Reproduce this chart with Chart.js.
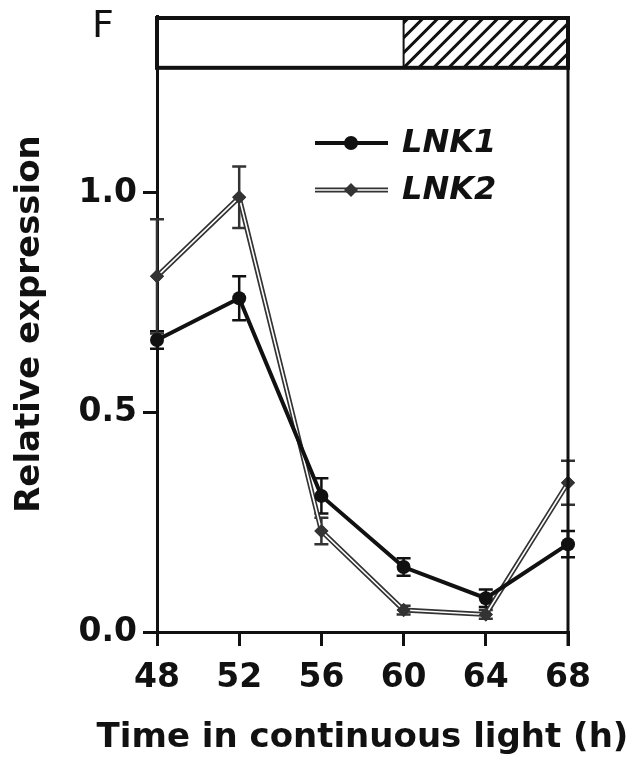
<!DOCTYPE html>
<html>
<head>
<meta charset="utf-8">
<script src="https://cdn.jsdelivr.net/npm/chart.js@4.4.0/dist/chart.umd.min.js"></script>
<style>
  body { margin: 0; background: #fff; }
</style>
</head>
<body>
<canvas id="chart" width="632" height="764"></canvas>
<script>
// data
const hours = [48, 52, 56, 60, 64, 68];
const lnk1 = [0.665, 0.76, 0.31, 0.148, 0.077, 0.20];
const lnk1Err = [0.02, 0.05, 0.04, 0.02, 0.02, 0.03];
const lnk2 = [0.81, 0.99, 0.23, 0.05, 0.04, 0.34];
const lnk2Err = [0.13, 0.07, 0.03, 0.01, 0.01, 0.05];
const yTicks = [0, 0.5, 1.0];
const xTicks = [48, 52, 56, 60, 64, 68];
// light / dark bar on top (subjective day, subjective night)
const dayBar = [48, 60];
const nightBar = [60, 68];
const xTitle = 'Time in continuous light (h)';

const FONT = "'DejaVu Sans', Verdana, sans-serif";
const INK = '#111';

function toPoints(ys) {
    return hours.map((h, i) => ({ x: h, y: ys[i] }));
}

const errors = [lnk1Err, lnk2Err];

// error bars under the markers
const errorBars = {
    id: 'errorBars',
    beforeDatasetsDraw(chart) {
        const ctx = chart.ctx;
        const y = chart.scales.y;
        chart.data.datasets.forEach((ds, di) => {
            const meta = chart.getDatasetMeta(di);
            ctx.save();
            ctx.strokeStyle = ds.borderColor;
            ctx.lineWidth = 2.5;
            meta.data.forEach((pt, i) => {
                const v = ds.data[i].y;
                const e = errors[di][i];
                const top = y.getPixelForValue(v + e);
                const bot = y.getPixelForValue(Math.max(0, v - e));
                ctx.beginPath();
                ctx.moveTo(pt.x, top); ctx.lineTo(pt.x, bot);
                ctx.moveTo(pt.x - 7, top); ctx.lineTo(pt.x + 7, top);
                ctx.moveTo(pt.x - 7, bot); ctx.lineTo(pt.x + 7, bot);
                ctx.stroke();
            });
            ctx.restore();
        });
    }
};

// LNK2 is printed as an outlined (hollow) line
const hollowLine = {
    id: 'hollowLine',
    afterDatasetDraw(chart, args) {
        if (args.index !== 1) return;
        const ctx = chart.ctx;
        const pts = args.meta.data;
        ctx.save();
        ctx.strokeStyle = '#fff';
        ctx.lineWidth = 1.6;
        ctx.beginPath();
        pts.forEach((p, i) => i ? ctx.lineTo(p.x, p.y) : ctx.moveTo(p.x, p.y));
        ctx.stroke();
        pts.forEach(p => p.draw(ctx));
        ctx.restore();
    }
};

// frame on the right, the day/night bar, panel letter, x title and legend
const extras = {
    id: 'extras',
    afterDraw(chart) {
        const ctx = chart.ctx;
        const area = chart.chartArea;
        const x = chart.scales.x;
        const y = chart.scales.y;
        ctx.save();

        // right border
        ctx.strokeStyle = INK;
        ctx.lineWidth = 3;
        ctx.beginPath();
        ctx.moveTo(area.right, area.top);
        ctx.lineTo(area.right, area.bottom + 14);
        ctx.stroke();

        // bar
        const barTop = area.top + 2;
        const barBot = y.getPixelForValue(1.285);
        const d0 = x.getPixelForValue(dayBar[0]);
        const n0 = x.getPixelForValue(nightBar[0]);
        const n1 = x.getPixelForValue(nightBar[1]);
        ctx.fillStyle = '#fff';
        ctx.fillRect(d0, barTop, n1 - d0, barBot - barTop);

        ctx.save();
        ctx.beginPath();
        ctx.rect(n0, barTop, n1 - n0, barBot - barTop);
        ctx.clip();
        ctx.lineWidth = 3;
        ctx.beginPath();
        for (let k = n0 - 60; k < n1 + 60; k += 15) {
            ctx.moveTo(k, barBot);
            ctx.lineTo(k + (barBot - barTop), barTop);
        }
        ctx.stroke();
        ctx.restore();

        ctx.lineWidth = 4;
        ctx.strokeRect(d0, barTop, n1 - d0, barBot - barTop);
        ctx.beginPath();
        ctx.moveTo(n0, barTop); ctx.lineTo(n0, barBot);
        ctx.lineWidth = 2;
        ctx.stroke();

        // panel letter
        ctx.fillStyle = INK;
        ctx.font = '38px ' + FONT;
        ctx.textBaseline = 'top';
        ctx.fillText('F', 92, 8);

        // x axis title, wider than the axis so drawn here
        ctx.font = 'bold 34px ' + FONT;
        ctx.textAlign = 'center';
        ctx.textBaseline = 'middle';
        ctx.fillText(xTitle, (area.left + area.right) / 2, 738);
        ctx.textAlign = 'left';

        // legend
        const rows = [143, 190];
        chart.data.datasets.forEach((ds, i) => {
            const ly = rows[i];
            ctx.strokeStyle = ds.borderColor;
            ctx.lineWidth = ds.borderWidth;
            ctx.beginPath();
            ctx.moveTo(315, ly); ctx.lineTo(388, ly);
            ctx.stroke();
            if (i === 1) {
                ctx.strokeStyle = '#fff';
                ctx.lineWidth = 1.6;
                ctx.stroke();
            }
            ctx.fillStyle = ds.pointBackgroundColor;
            Chart.helpers.drawPoint(ctx, {
                pointStyle: ds.pointStyle, radius: ds.pointRadius, borderWidth: 0
            }, 351, ly);
            ctx.fillStyle = INK;
            ctx.font = 'italic bold 32px ' + FONT;
            ctx.textBaseline = 'middle';
            ctx.fillText(ds.label, 402, ly + 1);
        });

        ctx.restore();
    }
};

new Chart(document.getElementById('chart'), {
    type: 'line',
    data: {
        datasets: [
            {
                label: 'LNK1',
                data: toPoints(lnk1),
                borderColor: INK,
                borderWidth: 4,
                pointStyle: 'circle',
                pointRadius: 7,
                pointBackgroundColor: INK,
                pointBorderWidth: 0,
                clip: false
            },
            {
                label: 'LNK2',
                data: toPoints(lnk2),
                borderColor: '#333',
                borderWidth: 5,
                pointStyle: 'rectRot',
                pointRadius: 7,
                pointBackgroundColor: '#333',
                pointBorderWidth: 0,
                clip: false
            }
        ]
    },
    options: {
        responsive: false,
        animation: false,
        layout: { padding: { top: 16, right: 64, left: 0, bottom: 0 } },
        plugins: { legend: { display: false }, tooltip: { enabled: false } },
        scales: {
            x: {
                type: 'linear',
                min: 48,
                max: 68,
                afterBuildTicks: s => { s.ticks = xTicks.map(v => ({ value: v })); },
                afterFit: s => { s.height = 132; s.paddingLeft = 0; s.paddingRight = 0; },
                grid: { drawOnChartArea: false, drawTicks: true, tickLength: 14, color: INK, lineWidth: 3 },
                border: { color: INK, width: 3 },
                ticks: {
                    color: INK, padding: 13, maxRotation: 0, autoSkip: false,
                    font: { family: FONT, size: 33, weight: 'bold' }
                },
                title: { display: false }
            },
            y: {
                min: 0,
                max: 1.403,
                afterBuildTicks: s => { s.ticks = yTicks.map(v => ({ value: v })); },
                afterFit: s => { s.width = 157; s.paddingTop = 0; s.paddingBottom = 0; },
                grid: { drawOnChartArea: false, drawTicks: true, tickLength: 14, color: INK, lineWidth: 3 },
                border: { color: INK, width: 3 },
                ticks: {
                    color: INK, padding: 6,
                    callback: v => v.toFixed(1),
                    font: { family: FONT, size: 33, weight: 'bold' }
                },
                title: {
                    display: true,
                    text: 'Relative expression',
                    color: INK,
                    font: { family: FONT, size: 34, weight: 'bold' },
                    padding: { top: 10, bottom: 0 }
                }
            }
        }
    },
    plugins: [errorBars, hollowLine, extras]
});
</script>
</body>
</html>
